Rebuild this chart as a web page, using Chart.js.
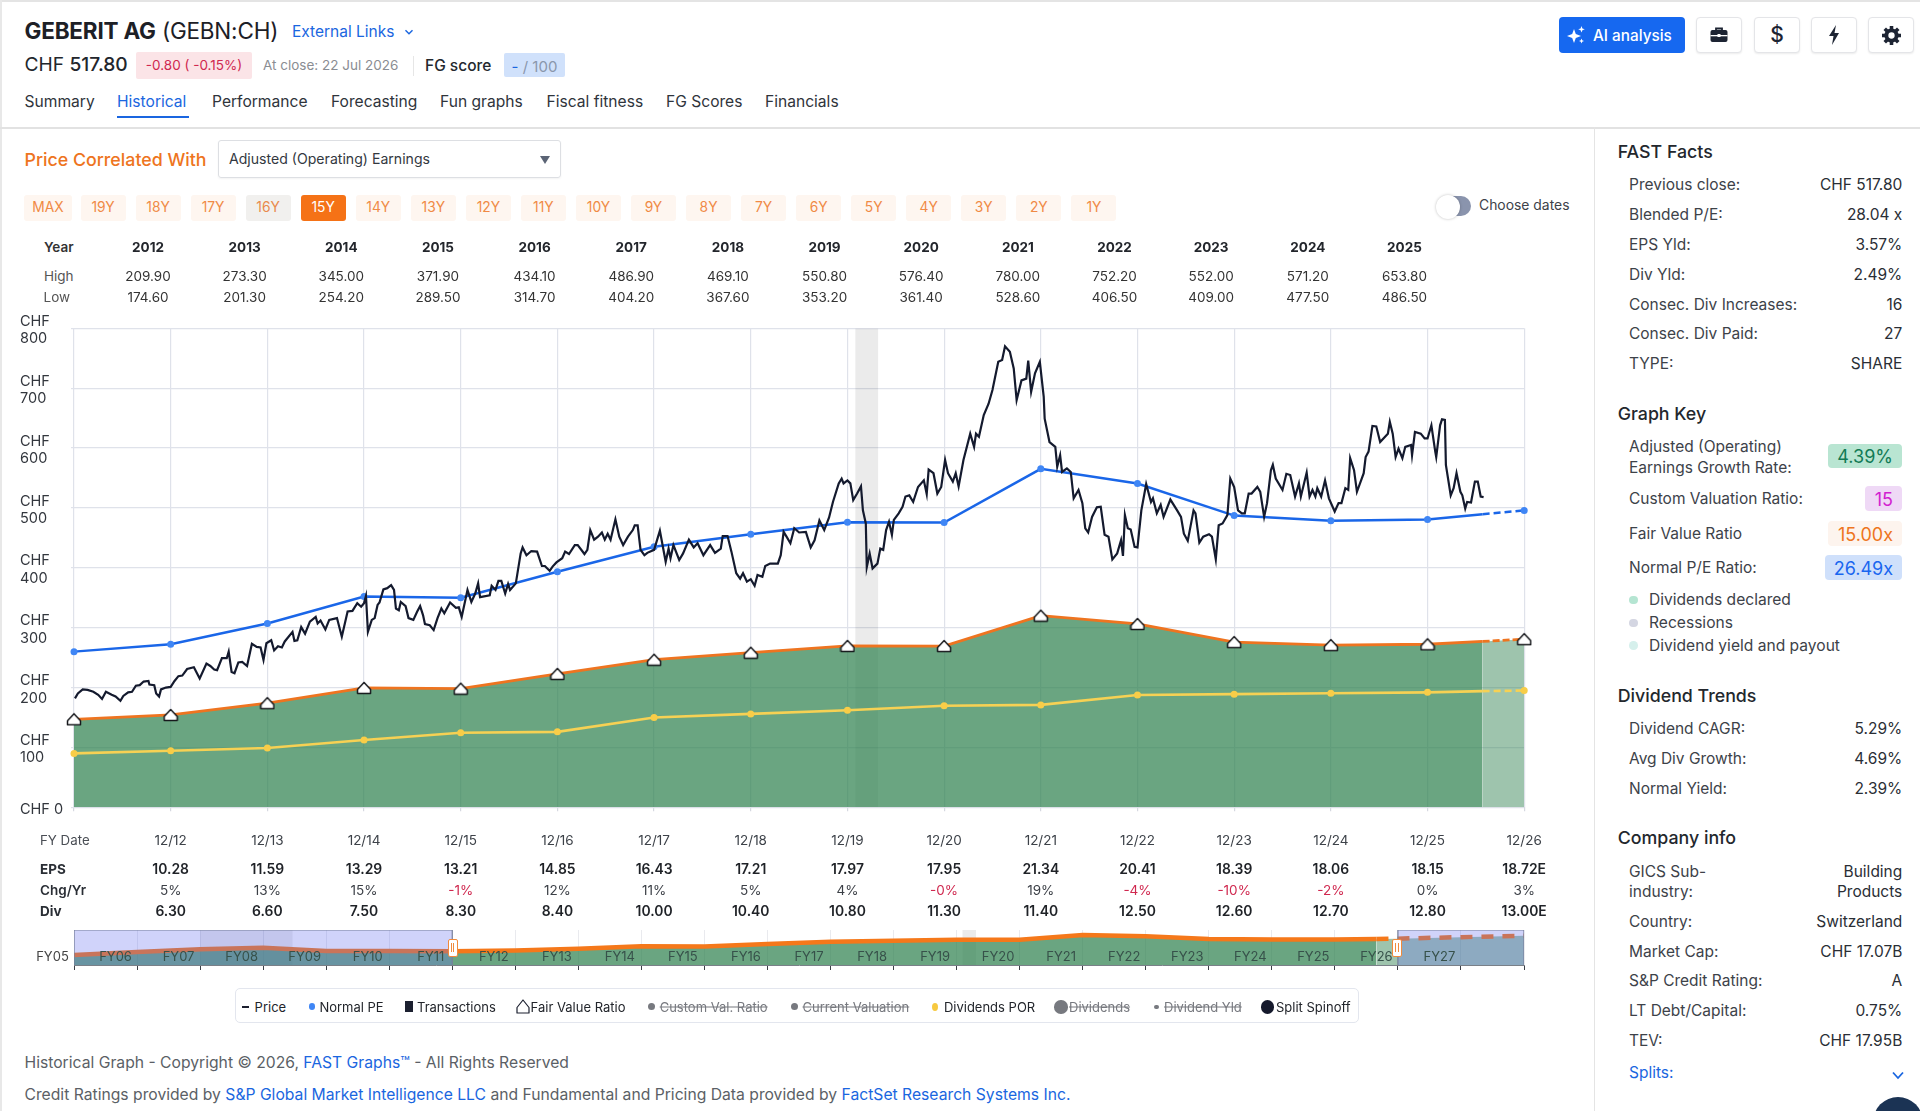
<!DOCTYPE html>
<html><head><meta charset="utf-8"><title>Geberit AG - FAST Graphs</title>
<script src="https://cdn.jsdelivr.net/npm/chart.js@4"></script>
<style>
html,body{margin:0;padding:0;background:#fff;width:1920px;height:1111px;overflow:hidden;font-family:Inter,"Noto Sans",sans-serif;color:#2a2e35}
.t{position:absolute;white-space:nowrap;line-height:1}
.b{position:absolute;box-sizing:border-box}
canvas{position:absolute}
svg{display:block}
a{color:#1a66e0;text-decoration:none}
</style></head><body>
<canvas id="main" width="1590" height="555" style="left:0;top:300px;width:1590px;height:555px"></canvas>
<canvas id="mini" width="1590" height="50" style="left:0;top:925px;width:1590px;height:50px"></canvas>
<script>
// ---------- data ----------
const fyLabels=['12/12','12/13','12/14','12/15','12/16','12/17','12/18','12/19','12/20','12/21','12/22','12/23','12/24','12/25','12/26'];
const fyYears=[2012,2013,2014,2015,2016,2017,2018,2019,2020,2021,2022,2023,2024,2025,2026];
const eps=['10.28','11.59','13.29','13.21','14.85','16.43','17.21','17.97','17.95','21.34','20.41','18.39','18.06','18.15','18.72E'];
const chg=['5%','13%','15%','-1%','12%','11%','5%','4%','-0%','19%','-4%','-10%','-2%','0%','3%'];
const div=['6.30','6.60','7.50','8.30','8.40','10.00','10.40','10.80','11.30','11.40','12.50','12.60','12.70','12.80','13.00E'];
const tableYears=['2012','2013','2014','2015','2016','2017','2018','2019','2020','2021','2022','2023','2024','2025'];
const tableHigh=['209.90','273.30','345.00','371.90','434.10','486.90','469.10','550.80','576.40','780.00','752.20','552.00','571.20','653.80'];
const tableLow=['174.60','201.30','254.20','289.50','314.70','404.20','367.60','353.20','361.40','528.60','406.50','409.00','477.50','486.50'];
const yTicks=[0,100,200,300,400,500,600,700,800];
// x positions of the annual series (2025.57 is where the solid lines turn dashed)
const annualX=[2011,2012,2013,2014,2015,2016,2017,2018,2019,2020,2021,2022,2023,2024,2025,2025.57,2026];
const normalPE=[260,272.3,307,352.1,349.9,393.4,435.2,455.9,476,475.5,565.3,540.7,487.2,478.4,480.8,489.5,495.9];
const fairValue=[147,154.2,173.9,199.4,198.2,222.8,246.5,258.2,269.6,269.3,320.1,306.2,275.9,270.9,272.3,277,280.8];
const dividendsPOR=[90,94.5,99,112.5,124.5,126,150,156,162,169.5,171,187.5,189,190.5,192,194,195];
const recessionMain=[2019.08,2019.32];
const priceHistory=[[2011.01,182],[2011.04,190],[2011.09,197],[2011.14,196],[2011.20,193],[2011.25,188],[2011.29,181],[2011.33,193],[2011.39,188],[2011.43,185],[2011.48,178],[2011.51,186],[2011.56,192],[2011.60,193],[2011.64,203],[2011.68,204],[2011.72,210],[2011.77,211],[2011.78,205],[2011.83,204],[2011.85,190],[2011.88,185],[2011.90,197],[2011.95,200],[2012.00,201],[2012.04,211],[2012.08,219],[2012.12,220],[2012.17,231],[2012.24,234],[2012.30,215],[2012.37,240],[2012.41,236],[2012.45,230],[2012.48,229],[2012.53,249],[2012.58,249],[2012.60,260],[2012.63,226],[2012.66,224],[2012.70,242],[2012.74,243],[2012.79,236],[2012.84,273],[2012.89,268],[2012.93,267],[2012.96,246],[2012.99,274],[2013.04,279],[2013.07,262],[2013.11,269],[2013.15,267],[2013.18,277],[2013.26,293],[2013.28,278],[2013.31,279],[2013.35,301],[2013.39,290],[2013.44,310],[2013.50,318],[2013.52,307],[2013.55,312],[2013.60,297],[2013.64,313],[2013.72,316],[2013.77,285],[2013.83,327],[2013.88,328],[2013.93,341],[2013.97,335],[2014.00,341],[2014.02,353],[2014.04,293],[2014.08,313],[2014.11,316],[2014.14,338],[2014.16,342],[2014.20,364],[2014.24,366],[2014.28,371],[2014.31,363],[2014.33,332],[2014.36,329],[2014.38,343],[2014.43,336],[2014.46,316],[2014.51,313],[2014.55,327],[2014.58,336],[2014.61,321],[2014.63,306],[2014.68,304],[2014.72,296],[2014.76,316],[2014.80,332],[2014.83,324],[2014.89,342],[2014.95,333],[2014.98,334],[2015.01,318],[2015.07,363],[2015.11,343],[2015.15,357],[2015.18,374],[2015.20,351],[2015.30,354],[2015.32,370],[2015.36,363],[2015.39,378],[2015.42,378],[2015.46,357],[2015.49,373],[2015.51,363],[2015.57,374],[2015.62,424],[2015.64,434],[2015.68,421],[2015.73,428],[2015.79,427],[2015.84,403],[2015.87,403],[2015.92,395],[2015.95,402],[2015.99,409],[2016.05,416],[2016.08,427],[2016.12,423],[2016.18,438],[2016.21,438],[2016.28,423],[2016.31,430],[2016.34,463],[2016.38,447],[2016.42,452],[2016.46,459],[2016.49,447],[2016.52,457],[2016.55,447],[2016.60,481],[2016.64,452],[2016.68,438],[2016.73,452],[2016.78,463],[2016.80,471],[2016.83,471],[2016.86,430],[2016.90,421],[2016.93,425],[2017.00,430],[2017.06,462],[2017.12,410],[2017.15,432],[2017.17,416],[2017.20,438],[2017.26,413],[2017.30,424],[2017.36,447],[2017.41,434],[2017.45,441],[2017.51,421],[2017.58,438],[2017.63,425],[2017.69,432],[2017.71,453],[2017.76,453],[2017.80,427],[2017.85,391],[2017.89,382],[2017.92,391],[2017.96,377],[2018.00,381],[2018.04,370],[2018.07,388],[2018.12,385],[2018.15,403],[2018.20,407],[2018.28,407],[2018.31,421],[2018.34,460],[2018.37,452],[2018.41,441],[2018.45,466],[2018.50,459],[2018.57,460],[2018.62,434],[2018.66,446],[2018.71,479],[2018.76,463],[2018.81,484],[2018.85,510],[2018.91,541],[2018.94,549],[2018.96,541],[2019.00,546],[2019.03,541],[2019.06,513],[2019.10,524],[2019.14,536],[2019.16,496],[2019.19,474],[2019.20,401],[2019.23,424],[2019.26,399],[2019.31,407],[2019.34,432],[2019.37,430],[2019.40,463],[2019.43,477],[2019.46,455],[2019.48,480],[2019.53,491],[2019.57,502],[2019.60,519],[2019.64,521],[2019.68,510],[2019.73,535],[2019.79,546],[2019.82,523],[2019.84,564],[2019.89,558],[2019.93,524],[2019.97,535],[2020.01,580],[2020.04,558],[2020.09,544],[2020.12,558],[2020.15,536],[2020.20,580],[2020.27,624],[2020.31,602],[2020.33,624],[2020.36,619],[2020.41,655],[2020.46,674],[2020.50,697],[2020.56,744],[2020.60,747],[2020.63,770],[2020.68,761],[2020.72,733],[2020.75,680],[2020.80,713],[2020.85,716],[2020.87,746],[2020.90,694],[2020.94,725],[2020.99,744],[2021.03,686],[2021.04,649],[2021.09,610],[2021.15,602],[2021.17,569],[2021.20,588],[2021.22,560],[2021.27,566],[2021.31,560],[2021.34,516],[2021.39,530],[2021.43,508],[2021.46,466],[2021.49,459],[2021.53,485],[2021.58,501],[2021.62,502],[2021.66,455],[2021.70,452],[2021.74,414],[2021.79,424],[2021.83,446],[2021.85,420],[2021.87,488],[2021.90,466],[2021.93,464],[2021.97,435],[2022.00,434],[2022.04,496],[2022.09,540],[2022.14,510],[2022.16,516],[2022.20,491],[2022.24,505],[2022.27,485],[2022.34,514],[2022.41,496],[2022.45,485],[2022.48,457],[2022.52,445],[2022.58,496],[2022.60,491],[2022.64,442],[2022.68,452],[2022.74,456],[2022.77,452],[2022.81,414],[2022.84,471],[2022.88,474],[2022.93,488],[2022.96,549],[2023.00,535],[2023.04,496],[2023.08,491],[2023.11,491],[2023.15,524],[2023.18,524],[2023.24,535],[2023.27,527],[2023.31,485],[2023.34,508],[2023.38,563],[2023.40,572],[2023.43,549],[2023.50,530],[2023.54,557],[2023.58,555],[2023.63,519],[2023.67,541],[2023.69,519],[2023.75,559],[2023.78,519],[2023.81,530],[2023.84,519],[2023.86,533],[2023.90,519],[2023.94,546],[2023.98,516],[2024.04,494],[2024.08,508],[2024.11,508],[2024.15,533],[2024.18,530],[2024.20,583],[2024.24,563],[2024.27,527],[2024.34,558],[2024.36,585],[2024.39,594],[2024.43,637],[2024.47,636],[2024.51,610],[2024.59,624],[2024.61,644],[2024.64,624],[2024.67,585],[2024.70,599],[2024.74,583],[2024.77,602],[2024.83,605],[2024.84,588],[2024.87,627],[2024.93,624],[2024.97,616],[2025.00,616],[2025.04,638],[2025.08,594],[2025.09,585],[2025.13,638],[2025.15,648],[2025.18,647],[2025.19,572],[2025.24,521],[2025.27,533],[2025.30,558],[2025.34,527],[2025.36,521],[2025.39,499],[2025.41,510],[2025.45,509],[2025.49,544],[2025.52,544],[2025.55,519],[2025.58,518]];
// navigator
const miniYears=[2005,2006,2007,2008,2009,2010,2011,2012,2013,2014,2015,2016,2017,2018,2019,2020,2021,2022,2023,2024,2025,2025.66,2026,2027,2028];
const miniFair=[107,139,167,184,149,149,147,154,174,199,198,223,247,258,270,269,320,306,276,271,272,276,281,297,312];
const miniLabels=['FY05','FY06','FY07','FY08','FY09','FY10','FY11','FY12','FY13','FY14','FY15','FY16','FY17','FY18','FY19','FY20','FY21','FY22','FY23','FY24','FY25','FY26','FY27'];
const miniRecessions=[[2007,2008.47],[2019.09,2019.31]];
const miniWindowL=[2005,2011], miniWindowR=[2026,2028];
const rangeButtons=['MAX','19Y','18Y','17Y','16Y','15Y','14Y','13Y','12Y','11Y','10Y','9Y','8Y','7Y','6Y','5Y','4Y','3Y','2Y','1Y'];
const tabs=[['Summary',24.5],['Historical',117],['Performance',212],['Forecasting',331],['Fun graphs',440],['Fiscal fitness',546.5],['FG Scores',666],['Financials',765]];
const fastFacts=[['Previous close:','CHF 517.80',184.3],['Blended P/E:','28.04 x',214.3],['EPS Yld:','3.57%',244.3],['Div Yld:','2.49%',274],['Consec. Div Increases:','16',304],['Consec. Div Paid:','27',333.6],['TYPE:','SHARE',363.6]];
const divTrends=[['Dividend CAGR:','5.29%',728.3],['Avg Div Growth:','4.69%',758],['Normal Yield:','2.39%',787.7]];
const companyInfo=[['Country:','Switzerland',920.7],['Market Cap:','CHF 17.07B',950.7],['S&P Credit Rating:','A',980.3],['LT Debt/Capital:','0.75%',1010.3],['TEV:','CHF 17.95B',1040]];
const legendItems=[['Price',254.6,0],['Normal PE',319.4,0],['Transactions',417,0],['Fair Value Ratio',530.6,0],['Custom Val. Ratio',659.7,1],['Current Valuation',802.5,1],['Dividends POR',943.9,0],['Dividends',1069,1],['Dividend Yld',1164,1],['Split Spinoff',1276,0]];

// ---------- html helpers ----------
function T(txt,x,y,o={}){const d=document.createElement('div');d.className='t';d.innerHTML=txt;
 let tx=o.a==='r'?'-100%':o.a==='c'?'-50%':'0';d.style.cssText=`left:${x}px;top:${y+.8}px;transform:translate(${tx},-50%);font-size:${o.s||15}px;font-weight:${o.w||400};color:${o.c||'#2a2e35'};${o.x||''}`;document.body.appendChild(d);return d;}
function B(x,y,w,h,css){const d=document.createElement('div');d.className='b';d.style.cssText=`left:${x}px;top:${y}px;width:${w}px;height:${h}px;${css||''}`;document.body.appendChild(d);return d;}
const BLUE='#1a66e0',ORANGE='#ee7420',RED='#d0284f',SIDE=15.5;

// frame
B(0,0,1920,1.5,'background:#e4e4e4');B(0,0,1.5,1111,'background:#e8e8e8');
B(0,127,1920,1.5,'background:#e2e2e2');B(1593.5,127,1.2,984,'background:#e4e4e4');
// header
T('<b style="font-weight:700">GEBERIT AG</b> (GEBN:CH)',24.5,30.5,{s:22.5,c:'#1d2026',x:'letter-spacing:-.2px'});
T('External Links',292,31.5,{s:15.5,c:BLUE});
B(404,27,10,10,'').innerHTML='<svg width="10" height="10" viewBox="0 0 10 10"><path d="M1.5 3.2 5 6.8 8.5 3.2" fill="none" stroke="#1a66e0" stroke-width="1.4"/></svg>';
T('CHF <span style="font-weight:500">517.80</span>',24.5,64.5,{s:19.2,c:'#22262c'});
B(136,52,116,27,'background:#fbe4e7;border-radius:2px');
T('-0.80 ( -0.15%)',194,65,{s:13.5,c:RED,a:'c'});
T('At close: 22 Jul 2026',263,65,{s:13.5,c:'#8a8d93'});
B(413,56,1,20,'background:#e6e6e6');
T('FG score',425,65.5,{s:15.5,c:'#24282e',w:500});
B(504,53,61,23.5,'background:#d0e1fb;border-radius:2px');
T('<span style="color:#1a66e0">-</span> / 100',534.5,65,{s:15,c:'#8a97ab',a:'c'});
tabs.forEach(([t,x])=>T(t,x,101,{s:15.6,c:t==='Historical'?BLUE:'#2f343b'}));
B(117,115.5,72,2.5,'background:#1a66e0');
// AI + icons
B(1559,17,126,36,'background:#1668f0;border-radius:4px');
T('AI analysis',1593,35,{s:15.3,c:'#fff',w:500});
B(1566,25,20,20,'').innerHTML='<svg width="20" height="20" viewBox="0 0 20 20" fill="#fff"><path d="M8 4 9.8 9 15 11 9.8 13 8 18 6.200 13 1 11 6.200 9Z"/><path d="M15.500 1 16.400 3.400 18.800 4.300 16.400 5.200 15.500 7.600 14.600 5.200 12.200 4.300 14.600 3.400Z"/><path d="M15.500 13.500 16.200 15.300 18 16 16.200 16.700 15.500 18.500 14.800 16.700 13 16 14.800 15.300Z"/></svg>';
[[1696,'<svg width="18" height="16" viewBox="0 0 18 16"><path d="M6 3V1.500H12V3" fill="none" stroke="#1d2433" stroke-width="1.800"/><rect x="0.500" y="3" width="17" height="12" rx="2" fill="#1d2433"/><rect x="0.500" y="8" width="17" height="1.300" fill="#fff"/><rect x="7.500" y="7" width="3" height="3" fill="#fff"/></svg>'],
 [1754,'<span style="font-size:21px;line-height:36px;color:#1d2433;font-weight:500">$</span>'],
 [1811,'<svg width="12" height="20" viewBox="0 0 12 20"><path d="M8 0 1 11H5.500L4 20 11 8H6.500Z" fill="#1d2433"/></svg>'],
 [1868,'<svg width="19" height="19" viewBox="0 0 24 24"><circle cx="12" cy="12" r="6.500" fill="none" stroke="#1d2433" stroke-width="5"/><g stroke="#1d2433" stroke-width="4.500"><path d="M12 0V5"/><path d="M12 19V24"/><path d="M0 12H5"/><path d="M19 12H24"/><path d="M3.500 3.500 7 7"/><path d="M17 17 20.500 20.500"/><path d="M3.500 20.500 7 17"/><path d="M17 7 20.500 3.500"/></g></svg>']
].forEach(([x,s])=>{const d=B(x,17,46,36,'border:1px solid #e4e5e8;border-radius:4px;box-shadow:0 1px 2px rgba(0,0,0,.08);display:flex;align-items:center;justify-content:center;background:#fff');d.innerHTML=s;});
// controls
T('Price Correlated With',24.5,159,{s:17.8,c:ORANGE,w:500});
B(218,140,343,37.5,'border:1.2px solid #dddfe3;border-radius:3px;box-shadow:0 1px 2px rgba(0,0,0,.05)');
T('Adjusted (Operating) Earnings',229,158.5,{s:14.1,c:'#33383f'});
B(540,155.5,10,8,'').innerHTML='<svg width="10" height="8"><path d="M0 0H10L5 8Z" fill="#5b6475"/></svg>';
rangeButtons.forEach((t,i)=>{const cx=i===0?48:103+55.05*(i-1);const w=i===0?48:45;const active=t==='15Y',g=t==='16Y';
 B(cx-w/2,195,w,25.5,`border-radius:3px;background:${active?'#f57216':g?'#f1f0ee':'#fef6f0'}`);
 T(t,cx,207.3,{s:13.8,c:active?'#fff':g?'#e98a4c':'#f08a45',a:'c'});});
B(1442,196,29,20,'background:#8a94ad;border-radius:10px');
B(1436,195,24,24,'background:#fff;border-radius:50%;box-shadow:0 0 3px rgba(0,0,0,.25)');
T('Choose dates',1479,205.5,{s:13.9,c:'#3d4249'});
// top table
const tX=i=>148+96.65*i;
T('Year',44,246.7,{s:13.5,w:600,c:'#333'});T('High',44,276,{s:13.5,c:'#555'});T('Low',43.500,296.8,{s:13.5,c:'#555'});
tableYears.forEach((v,i)=>T(v,tX(i),246.7,{s:13.5,w:700,c:'#23262c',a:'c'}));
tableHigh.forEach((v,i)=>T(v,tX(i),276,{s:13.5,c:'#333',a:'c'}));
tableLow.forEach((v,i)=>T(v,tX(i),296.8,{s:13.5,c:'#333',a:'c'}));

// ---------- charts ----------
Chart.defaults.font.family='Inter,"Noto Sans",sans-serif';
const house=document.createElement('canvas');house.width=16;house.height=14;
(()=>{const c=house.getContext('2d');c.lineJoin='round';c.lineWidth=1.500;c.strokeStyle='#17181c';c.fillStyle='#fff';c.beginPath();c.moveTo(1.500,12.500);c.lineTo(14.500,12.500);c.lineTo(14.500,8.500);c.lineTo(8,1.500);c.lineTo(1.500,8.500);c.closePath();c.fill();c.stroke();})();
const GREEN='rgba(48,130,80,.72)',GREEN_F='rgba(48,130,80,.47)',SHADE='rgba(0,0,0,.08)';
const pts=(xs,ys)=>xs.map((x,i)=>({x,y:ys[i]}));
const annual=ys=>pts(annualX,ys);
const BREAK=2025.57;
const dashAfterBreak=d=>({borderDash:c=>c.p0.parsed.x>=BREAK-.001?d:undefined});
const whole=c=>Number.isInteger(c.raw.x)?3.5:0;
const mainChart=new Chart(document.getElementById('main'),{type:'line',
 data:{datasets:[
  {label:'Price',data:priceHistory.map(([x,y])=>({x,y})),borderColor:'#141a2e',borderWidth:2.200,pointRadius:0,tension:0,order:5,borderJoinStyle:'miter'},
  {label:'Normal PE',data:annual(normalPE),borderColor:'#1a66e8',backgroundColor:'#3f86f5',borderWidth:2.500,pointRadius:whole,pointBorderWidth:0,segment:dashAfterBreak([7,4]),clip:false,order:6},
  {label:'Dividends POR',data:annual(dividendsPOR),borderColor:'#f6d154',backgroundColor:'#f8cd48',borderWidth:2.600,pointRadius:whole,pointBorderWidth:0,segment:dashAfterBreak([7,4]),clip:false,order:7},
  {label:'Fair Value Ratio',data:annual(fairValue),borderColor:'#ee7420',borderWidth:2.800,pointStyle:house,pointRadius:c=>Number.isInteger(c.raw.x)?7:0,segment:dashAfterBreak([7,3]),clip:false,order:4},
  {label:'Earnings',data:annual(fairValue).slice(0,16),fill:'origin',backgroundColor:GREEN,borderWidth:0,pointRadius:0,order:20},
  {label:'Earnings estimate',data:annual(fairValue).slice(15),fill:'origin',backgroundColor:GREEN_F,borderWidth:0,pointRadius:0,order:20},
  {label:'Recession',data:recessionMain.map(x=>({x,y:800})),fill:'origin',backgroundColor:SHADE,borderWidth:0,pointRadius:0,order:30}
 ]},
 options:{responsive:false,animation:false,events:[],devicePixelRatio:1,
  layout:{padding:{left:20,right:65.8,top:28.3,bottom:0}},
  plugins:{legend:{display:false},tooltip:{enabled:false}},
  scales:{
   x:{type:'linear',min:2011,max:2026,afterBuildTicks(a){a.ticks=[2011].concat(fyYears).map(value=>({value}));},afterFit(a){a.height=47.7;},
      ticks:{autoSkip:false,maxRotation:0,padding:22,font:{size:13.5},color:'#3d4249',callback:v=>{const i=fyYears.indexOf(v);return i<0?'':fyLabels[i];}},
      grid:{color:'#dfe2ea',lineWidth:1.2,tickLength:4,tickColor:'#d5d8e0'},border:{display:false}},
   y:{min:0,max:800,afterBuildTicks(a){a.ticks=yTicks.map(value=>({value}));},afterFit(a){a.width=54;},
      ticks:{crossAlign:'far',padding:2,labelOffset:2,font:{size:14.5,lineHeight:1.2},color:'#33373e',callback:v=>v===0?'CHF 0':['CHF',String(v)]},
      grid:{color:'#dfe2ea',lineWidth:1.2,tickLength:3},border:{display:false}}
  }}});
const miniChart=new Chart(document.getElementById('mini'),{type:'line',
 data:{datasets:[
  {label:'Window start',data:miniWindowL.flatMap((x,i)=>i===0?[{x,y:0},{x,y:373}]:[{x,y:373},{x,y:0}]),fill:'origin',backgroundColor:'rgba(100,110,240,.3)',borderColor:'#77809c',borderWidth:1.200,pointRadius:0,order:1},
  {label:'Window end',data:miniWindowR.flatMap((x,i)=>i===0?[{x,y:0},{x,y:373}]:[{x,y:373},{x,y:0}]),fill:'origin',backgroundColor:'rgba(100,110,240,.3)',borderColor:'#77809c',borderWidth:1.200,pointRadius:0,order:1},
  {label:'Fair value',data:pts(miniYears,miniFair),borderColor:'#f5781a',borderWidth:4.500,pointRadius:0,segment:{borderDash:c=>c.p0.parsed.x>=2025.6?[12,9]:undefined},order:3},
  {label:'Earnings',data:pts(miniYears,miniFair).slice(0,22),fill:'origin',backgroundColor:GREEN,borderWidth:0,pointRadius:0,order:4},
  {label:'Estimate',data:pts(miniYears,miniFair).slice(21),fill:'origin',backgroundColor:GREEN_F,borderWidth:0,pointRadius:0,order:4},
  ...miniRecessions.map(r=>({label:'Recession',data:r.map(x=>({x,y:373})),fill:'origin',backgroundColor:SHADE,borderWidth:0,pointRadius:0,order:5}))
 ]},
 options:{responsive:false,animation:false,events:[],devicePixelRatio:1,
  layout:{padding:{left:74,right:66,top:5,bottom:0}},
  plugins:{legend:{display:false},tooltip:{enabled:false}},
  scales:{
   x:{type:'linear',min:2005,max:2028,afterFit(a){a.height=10;},ticks:{stepSize:1,display:false,autoSkip:false},grid:{color:'#e9eaee',lineWidth:1,tickLength:5,tickColor:'#3b3f46'},border:{display:true,color:'#7a8088'}},
   y:{display:false,min:0,max:373}
  }}});

// ---------- rows aligned to the chart's own x scale ----------
const sx=mainChart.scales.x;
T('FY Date',40,840,{s:13.3,c:'#4a4e55'});
T('EPS',40,869.3,{s:13.5,w:700,c:'#2a2e35'});T('Chg/Yr',40,890,{s:13.5,w:600,c:'#2a2e35'});T('Div',40,911,{s:13.5,w:700,c:'#2a2e35'});
fyYears.forEach((y,i)=>{const x=sx.getPixelForValue(y);
 T(eps[i],x,869.3,{s:13.9,w:600,c:'#1f2227',a:'c'});
 T(chg[i],x,890,{s:13.5,c:chg[i][0]==='-'?RED:'#3b3f46',a:'c'});
 T(div[i],x,911,{s:13.9,w:600,c:'#1f2227',a:'c'});});
const mx=miniChart.scales.x;
miniLabels.forEach((l,i)=>{const x=mx.getPixelForValue(2005+i)-21.5;T(l,x,955.5,{s:13,c:i===0?'#444':'#37514a',a:'c'});});
[[447.5],[1392]].forEach(([x])=>{const h=B(x,939,10,17.5,'background:#fff;border:1.5px solid #f08a3c;border-radius:2px');
 h.innerHTML='<div style="position:absolute;left:2px;top:3px;width:1.2px;height:9px;background:#f08a3c"></div><div style="position:absolute;left:4.500px;top:3px;width:1.2px;height:9px;background:#f08a3c"></div>';});
// legend
B(234.700,988,1124,34.500,'border:1.5px solid #e3e6ee;border-radius:5px;background:#fff');
legendItems.forEach(([t,x,off])=>T(t,x,1005.8,{s:13,c:off?'#77797f':'#22252b',x:off?'text-decoration:line-through':''}));
B(242,1005.5,7,2.5,'background:#1c2030');
B(308.5,1003,6.5,7,'background:#3f86f5;border-radius:50%');
B(404.6,1001,8.5,10.5,'background:#1c2030');
B(516,999,14,15,'').innerHTML='<svg width="14" height="15"><path d="M1 14H13V8.500L7 1 1 8.500Z" fill="#fff" stroke="#1c2030" stroke-width="1.200" stroke-linejoin="round"/></svg>';
B(648,1003,7,7,'background:#77797f;border-radius:50%');
B(791,1003,7,7,'background:#77797f;border-radius:50%');
B(932,1002.500,6,8,'background:#f7c93f;border-radius:50%');
B(1054,1000,13.5,13.5,'background:#77797f;border-radius:50%');
B(1154,1004.5,4.5,4.5,'background:#77797f;border-radius:50%');
B(1260.500,1000,13.5,13.5,'background:#15192c;border-radius:50%');
// footer
T('Historical Graph - Copyright © 2026, <a>FAST Graphs™</a> - All Rights Reserved',24.5,1061.7,{s:15.7,c:'#5b5f66'});
T('Credit Ratings provided by <a>S&amp;P Global Market Intelligence LLC</a> and Fundamental and Pricing Data provided by <a>FactSet Research Systems Inc.</a>',24.5,1094,{s:15.7,c:'#5b5f66'});
// sidebar
const head=(t,y)=>T(t,1617.7,y,{s:17.8,w:500,c:'#23272d'});
const row=([l,v,y])=>{T(l,1629,y,{s:SIDE,c:'#3d4249'});T(v,1902.3,y,{s:SIDE,c:'#2a2e35',a:'r'});};
head('FAST Facts',151.4);fastFacts.forEach(row);
head('Graph Key',413);
T('Adjusted (Operating)',1629,446,{s:SIDE,c:'#3d4249'});T('Earnings Growth Rate:',1629,466.8,{s:SIDE,c:'#3d4249'});
T('Custom Valuation Ratio:',1629,498.6,{s:SIDE,c:'#3d4249'});T('Fair Value Ratio',1629,533,{s:SIDE,c:'#3d4249'});T('Normal P/E Ratio:',1629,567.5,{s:SIDE,c:'#3d4249'});
[[1828,444,74,24,'#b9e5d2','#127a55','4.39%'],[1865,486,37,25,'#efd9f6','#d21fd0','15'],[1828,521,74,24.5,'#fdf4ee',ORANGE,'15.00x'],[1825,555,77,25,'#cfe0fb','#1a66f0','26.49x']].forEach(([x,y,w,h,bg,c,t])=>{
 B(x,y,w,h,`background:${bg};border-radius:4px`);T(t,x+w-9,y+h/2+.5,{s:18,c,a:'r'});});
[['Dividends declared',599.6,'#b5e5d2'],['Recessions',622.5,'#d4d6e2'],['Dividend yield and payout',645.4,'#d6f0ec']].forEach(([t,y,c])=>{B(1629,y-4,8.5,8.5,`background:${c};border-radius:50%`);T(t,1649,y,{s:15.6,c:'#3d4249'});});
head('Dividend Trends',695);divTrends.forEach(row);
head('Company info',837.3);
T('GICS Sub-',1629,870.7,{s:SIDE,c:'#3d4249'});T('industry:',1629,890.7,{s:SIDE,c:'#3d4249'});
T('Building',1902.3,870.7,{s:SIDE,a:'r'});T('Products',1902.3,890.7,{s:SIDE,a:'r'});
companyInfo.forEach(row);
T('Splits:',1629,1072.3,{s:SIDE,c:BLUE});
B(1892,1071,12,9,'').innerHTML='<svg width="12" height="9"><path d="M1 1.500 6 7 11 1.500" fill="none" stroke="#1a66e0" stroke-width="1.800"/></svg>';
B(1873,1097,50,50,'background:#1b3354;border-radius:50%');
</script>
</body></html>
